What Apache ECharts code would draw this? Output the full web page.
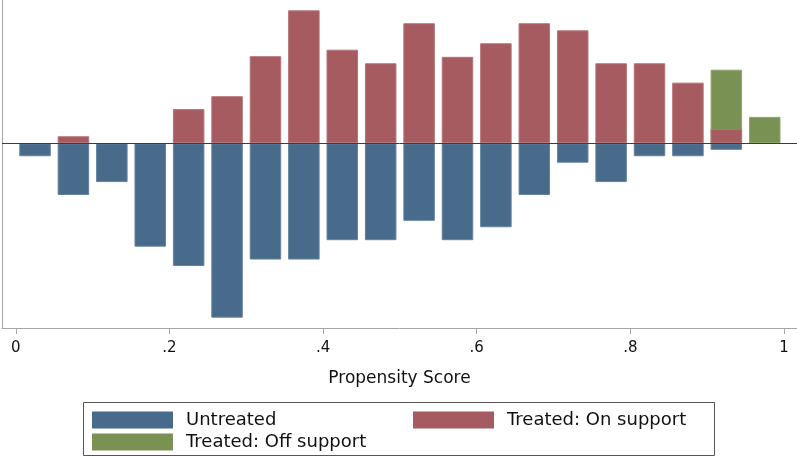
<!DOCTYPE html>
<html><head><meta charset="utf-8">
<script src="https://cdn.jsdelivr.net/npm/echarts@6/dist/echarts.min.js"></script>
<style>html,body{margin:0;padding:0;background:#fff;overflow:hidden}#c{width:797px;height:458px}</style>
</head><body><div id="c"></div>
<script>
const binCenters = [0.025,0.075,0.125,0.175,0.225,0.275,0.325,0.375,0.425,0.475,0.525,0.575,0.625,0.675,0.725,0.775,0.825,0.875,0.925,0.975];
const untreated  = [-2,-8,-6,-16,-19,-27,-18,-18,-15,-15,-12,-15,-13,-8,-3,-6,-2,-2,-1,null];
const treatedOn  = [null,1.1,null,null,5.3,7.3,13.5,20.6,14.5,12.4,18.6,13.4,15.5,18.6,17.5,12.4,12.4,9.4,2.2,null];
const treatedOff = [null,null,null,null,null,null,null,null,null,null,null,null,null,null,null,null,null,null,11.4,4.1];
const tickValues = [0,0.2,0.4,0.6,0.8,1];
const tickLabels = ['0','.2','.4','.6','.8','1'];
const seriesNames = ['Untreated','Treated: On support','Treated: Off support'];

const FONT = 'DejaVu Sans';
const BLUE = '#486a8b', RED = '#a55b60', GREEN = '#7a9154';

function pts(vals){ return binCenters.map((x,i)=>[x, vals[i]]).filter(p=>p[1]!==null); }

const chart = echarts.init(document.getElementById('c'), null, {renderer:'canvas'});
const legendText = {fontFamily: FONT, fontSize: 18, color: '#111', padding:[0,0,0,8]};
const legendBase = {itemWidth: 81, itemHeight: 17, icon: 'rect', textStyle: legendText, padding: 0,
  itemStyle: {borderWidth: 0}};
chart.setOption({
  animation: false,
  backgroundColor: '#fff',
  grid: {left: 2, right: 0, top: 0, bottom: 130, containLabel: false},
  xAxis: {
    type: 'value', min: -0.018, max: 1.017,
    name: 'Propensity Score', nameLocation: 'middle', nameGap: 42,
    nameTextStyle: {fontFamily: FONT, fontSize: 17, color: '#111'},
    axisLine: {onZero: false, lineStyle: {color: '#a6a6a6', width: 1}},
    axisTick: {show: true, length: 6, lineStyle: {color: '#a6a6a6'}, customValues: tickValues},
    axisLabel: {fontFamily: FONT, fontSize: 15, color: '#111', margin: 13,
      customValues: tickValues,
      formatter: v => tickLabels[tickValues.findIndex(t => Math.abs(t - v) < 1e-9)] },
    splitLine: {show: false}
  },
  yAxis: {
    type: 'value', min: -28.6, max: 22.2,
    axisLine: {show: true, onZero: false, lineStyle: {color: '#a6a6a6', width: 1}},
    axisTick: {show: false}, axisLabel: {show: false}, splitLine: {show: false}
  },
  legend: [
    Object.assign({data: [seriesNames[0]], left: 92, top: 411}, legendBase),
    Object.assign({data: [seriesNames[1]], left: 413, top: 411}, legendBase),
    Object.assign({data: [seriesNames[2]], left: 92, top: 433}, legendBase)
  ],
  graphic: [{type: 'rect', shape: {x: 83.5, y: 402.5, width: 631, height: 53},
    style: {fill: 'none', stroke: '#555', lineWidth: 1}, silent: true}],
  series: [
    {name: seriesNames[2], type: 'bar', data: pts(treatedOff), barWidth: 31.5, barGap: '-100%',
     itemStyle: {color: GREEN, borderColor: '#8fa56c', borderWidth: 1}, z: 2},
    {name: seriesNames[1], type: 'bar', data: pts(treatedOn), barWidth: 31.5, barGap: '-100%',
     itemStyle: {color: RED, borderColor: '#b57378', borderWidth: 1}, z: 3},
    {name: seriesNames[0], type: 'bar', data: pts(untreated), barWidth: 31.5, barGap: '-100%',
     itemStyle: {color: BLUE, borderColor: '#6483a0', borderWidth: 1}, z: 3,
     markLine: {silent: true, symbol: 'none', label: {show: false},
       lineStyle: {color: '#3c3c3c', width: 1, type: 'solid'}, data: [{yAxis: 0}]}}
  ]
});
</script></body></html>
